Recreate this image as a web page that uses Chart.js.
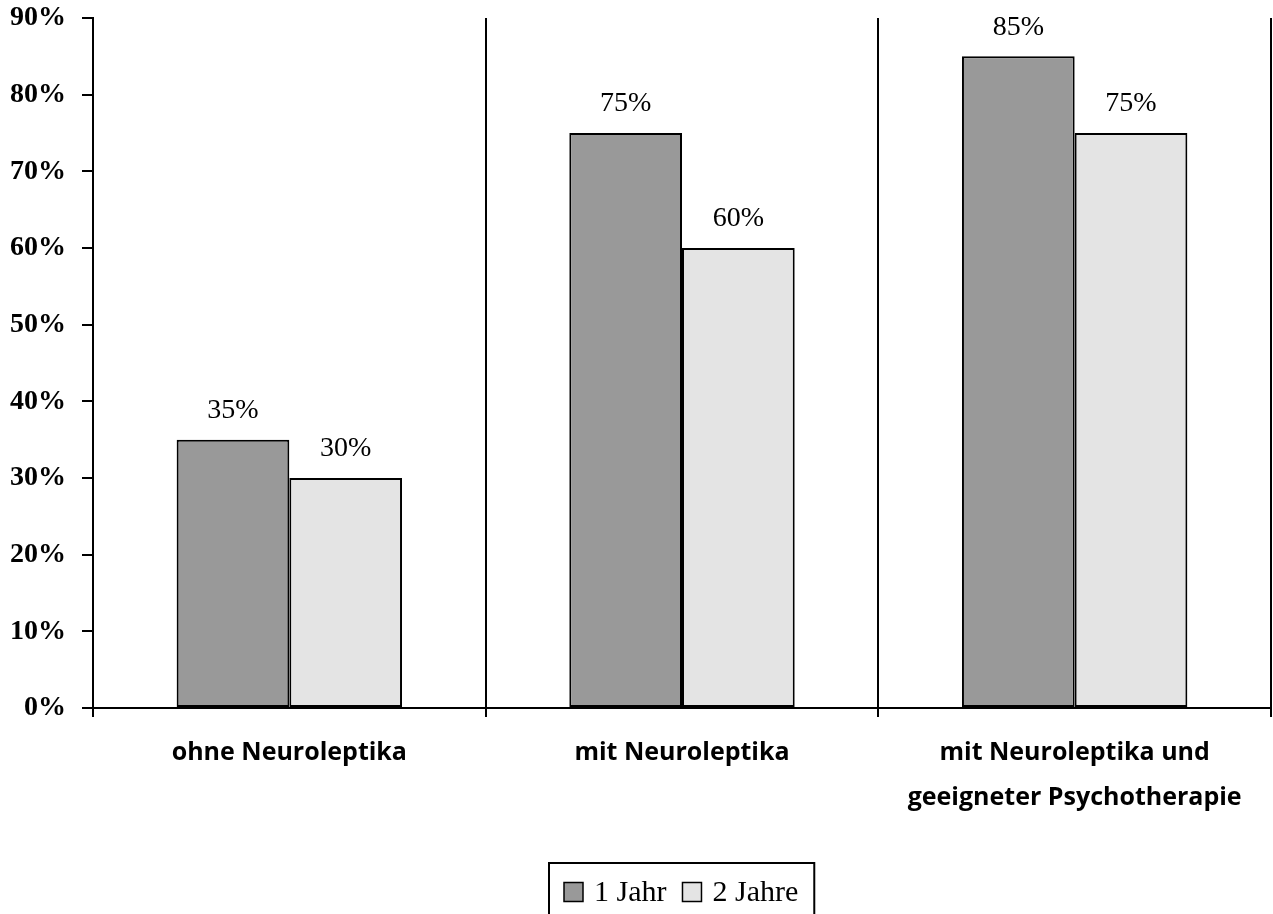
<!DOCTYPE html>
<html lang="de">
<head>
<meta charset="utf-8">
<title>Rückfallraten</title>
<script src="https://cdn.jsdelivr.net/npm/chart.js@4/dist/chart.umd.min.js"></script>
<style>
  html, body { margin: 0; padding: 0; background: #ffffff; }
  #wrap { width: 1273px; height: 914px; position: relative; }
  canvas { display: block; }
</style>
</head>
<body>
<div id="wrap"><canvas id="chart" width="1273" height="914"></canvas></div>
<script>
// Categories (multi-line labels as arrays)
const categories = [
  'ohne Neuroleptika',
  'mit Neuroleptika',
  ['mit Neuroleptika und', 'geeigneter Psychotherapie']
];
// Series values in percent
const seriesNames = ['1 Jahr', '2 Jahre'];
const oneYear = [35, 75, 85];
const twoYears = [30, 60, 75];
// Value axis
const yMin = 0;
const yMax = 90;
const yStep = 10;

const serif = '"Liberation Serif", "Times New Roman", serif';
const sans = '"Open Sans", "DejaVu Sans", sans-serif';

// Value labels above each bar
const valueLabels = {
  id: 'valueLabels',
  afterDatasetsDraw(chart) {
    const ctx = chart.ctx;
    ctx.save();
    ctx.font = '28px ' + serif;
    ctx.fillStyle = '#000';
    ctx.textAlign = 'center';
    ctx.textBaseline = 'middle';
    chart.data.datasets.forEach((ds, di) => {
      chart.getDatasetMeta(di).data.forEach((bar, i) => {
        ctx.fillText(ds.data[i] + '%', bar.x, bar.y - 29);
      });
    });
    ctx.restore();
  }
};

// Boxed legend below the axis labels
const boxedLegend = {
  id: 'boxedLegend',
  afterDraw(chart) {
    const ctx = chart.ctx;
    const area = chart.chartArea;
    const sq = 19, gapText = 11, gapItem = 16, padL = 15, padR = 16;
    ctx.save();
    ctx.font = '30px ' + serif;
    const items = chart.data.datasets.map(ds => ({
      label: ds.label, fill: ds.backgroundColor, w: ctx.measureText(ds.label).width
    }));
    let content = 0;
    items.forEach((it, i) => { content += sq + gapText + it.w + (i ? gapItem : 0); });
    const boxW = content + padL + padR;
    const cx = (area.left + area.right) / 2;
    const left = Math.round(cx - boxW / 2);
    const top = 863;
    const midY = 892;
    ctx.lineWidth = 2;
    ctx.strokeStyle = '#000';
    ctx.strokeRect(left, top, boxW, 60);
    let x = left + padL;
    ctx.textBaseline = 'middle';
    ctx.textAlign = 'left';
    items.forEach((it, i) => {
      if (i) x += gapItem;
      ctx.fillStyle = it.fill;
      ctx.fillRect(x, midY - sq / 2, sq, sq);
      ctx.lineWidth = 1.5;
      ctx.strokeRect(x, midY - sq / 2, sq, sq);
      x += sq + gapText;
      ctx.fillStyle = '#000';
      ctx.fillText(it.label, x, midY + 1);
      x += it.w;
    });
    ctx.restore();
  }
};

new Chart(document.getElementById('chart'), {
  type: 'bar',
  data: {
    labels: categories,
    datasets: [
      {
        label: seriesNames[0],
        data: oneYear,
        backgroundColor: '#999999',
        borderColor: '#000000',
        borderWidth: 2,
        borderSkipped: false,
        categoryPercentage: 0.574,
        barPercentage: 1.0
      },
      {
        label: seriesNames[1],
        data: twoYears,
        backgroundColor: '#e4e4e4',
        borderColor: '#000000',
        borderWidth: 2,
        borderSkipped: false,
        categoryPercentage: 0.574,
        barPercentage: 1.0
      }
    ]
  },
  options: {
    responsive: false,
    animation: false,
    devicePixelRatio: 1,
    layout: { padding: { top: 18, right: 2, bottom: 0, left: 0 } },
    plugins: {
      legend: { display: false },
      tooltip: { enabled: false },
      title: { display: false }
    },
    scales: {
      x: {
        offset: true,
        afterFit(scale) { scale.height = 206; scale.paddingLeft = 0; scale.paddingRight = 0; },
        grid: {
          offset: true,
          color: '#000',
          lineWidth: 2,
          drawOnChartArea: true,
          drawTicks: true,
          tickLength: 9
        },
        border: { color: '#000', width: 2 },
        ticks: {
          color: '#000',
          padding: 13,
          maxRotation: 0,
          autoSkip: false,
          font: { family: sans, size: 25, weight: 'bold', lineHeight: 1.8 }
        }
      },
      y: {
        min: yMin,
        max: yMax,
        afterFit(scale) { scale.width = 93; scale.paddingTop = 0; scale.paddingBottom = 0; },
        grid: {
          color: '#000',
          lineWidth: 2,
          drawOnChartArea: false,
          drawTicks: true,
          tickLength: 11
        },
        border: { color: '#000', width: 2 },
        ticks: {
          stepSize: yStep,
          color: '#000',
          padding: 16,
          font: { family: serif, size: 28, weight: 'bold' },
          callback: v => v + '%'
        }
      }
    }
  },
  plugins: [valueLabels, boxedLegend]
});
</script>
</body>
</html>
